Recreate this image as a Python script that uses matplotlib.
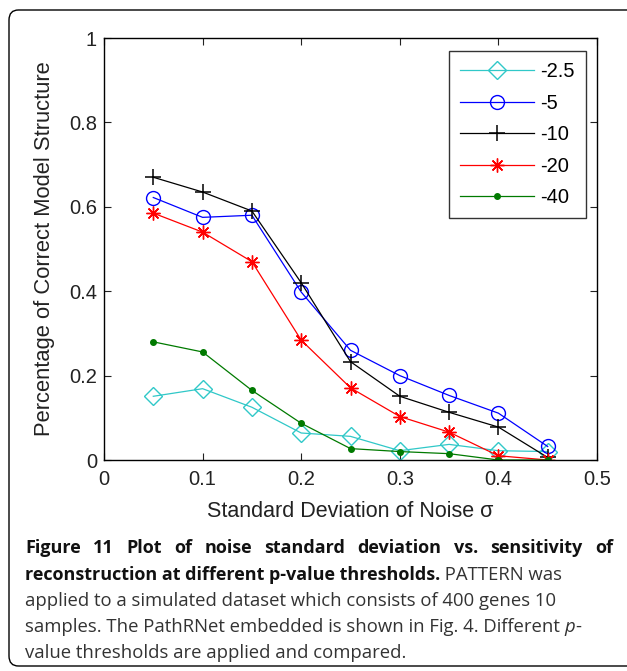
import matplotlib
matplotlib.use("Agg")
import matplotlib.pyplot as plt
from matplotlib.patches import FancyBboxPatch

# Дані
noise_sd = [0.05, 0.10, 0.15, 0.20, 0.25, 0.30, 0.35, 0.40, 0.45]
thr_labels = ['-2.5', '-5', '-10', '-20', '-40']
p25 = [0.151, 0.169, 0.125, 0.064, 0.056, 0.022, 0.037, 0.022, 0.020]
p5 = [0.622, 0.575, 0.580, 0.398, 0.260, 0.200, 0.153, 0.111, 0.032]
p10 = [0.670, 0.635, 0.590, 0.420, 0.233, 0.151, 0.113, 0.078, 0.006]
p20 = [0.585, 0.540, 0.470, 0.284, 0.171, 0.103, 0.066, 0.010, 0.000]
p40 = [0.280, 0.256, 0.165, 0.087, 0.027, 0.020, 0.015, 0.000, 0.000]
x_ticks = [0, 0.1, 0.2, 0.3, 0.4, 0.5]
x_tick_labels = ['0', '0.1', '0.2', '0.3', '0.4', '0.5']
y_ticks = [0, 0.2, 0.4, 0.6, 0.8, 1]
y_tick_labels = ['0', '0.2', '0.4', '0.6', '0.8', '1']

W, H = 627, 671
fig = plt.figure(figsize=(W / 100, H / 100), dpi=100)

# рамка навколо всього рисунка
frame = FancyBboxPatch((9 / W, 5 / H), 640 / W, (H - 15) / H,
                       boxstyle="round,pad=0,rounding_size=0.015",
                       transform=fig.transFigure, fill=False,
                       edgecolor='black', linewidth=1.0)
fig.patches.append(frame)

ax = fig.add_axes([104 / W, 1 - 460 / H, 493 / W, 422 / H])

mfont = 'Liberation Sans'
ax.plot(noise_sd, p25, color='#30c8c8', marker='D', markersize=9,
        markerfacecolor='none', lw=0.9, label=thr_labels[0])
ax.plot(noise_sd, p5, color='#0000ff', marker='o', markersize=10,
        markerfacecolor='none', lw=0.9, label=thr_labels[1])
ax.plot(noise_sd, p10, color='black', marker='+', markersize=12,
        markeredgewidth=1.1, lw=0.9, label=thr_labels[2])
ax.plot(noise_sd, p20, color='#ff0000', marker=(8, 2, 0), markersize=10,
        markeredgewidth=1.0, lw=0.9, label=thr_labels[3])
ax.plot(noise_sd, p40, color='#007a00', marker='.', markersize=8,
        lw=0.9, label=thr_labels[4])

ax.set_xlim(0, 0.5)
ax.set_ylim(0, 1)
ax.set_xticks(x_ticks)
ax.set_xticklabels(x_tick_labels, fontfamily=mfont, fontsize=14.5)
ax.set_yticks(y_ticks)
ax.set_yticklabels(y_tick_labels, fontfamily=mfont, fontsize=14.5)
ax.tick_params(direction='in', top=True, right=True, length=5, pad=5,
               colors='#222222')
ax.tick_params(axis='x', pad=7)
for s in ax.spines.values():
    s.set_linewidth(1.0)

ax.set_xlabel('Standard Deviation of Noise σ', fontfamily=mfont,
              fontsize=15.5, labelpad=9, color='#222222')
ax.set_ylabel('Percentage of Correct Model Structure', fontfamily=mfont,
              fontsize=15.8, labelpad=10, color='#222222')

leg = ax.legend(loc='upper right', bbox_to_anchor=(0.9776, 0.969),
                borderaxespad=0, prop={'family': mfont, 'size': 14.5},
                frameon=True, fancybox=False, edgecolor='black',
                handlelength=3.7, labelspacing=0.62, borderpad=0.55,
                handletextpad=0.3)
leg.get_frame().set_linewidth(1.0)

# підпис під рисунком: жирні та звичайні фрагменти в рядку
cap_font = 'Open Sans'
reg_size = 13.3
bold_size = 13.0
fig.canvas.draw()
renderer = fig.canvas.get_renderer()


def put(xpix, ypix, txt, wt='normal', st='normal'):
    t = fig.text(xpix / W, 1 - ypix / H, txt, fontfamily=cap_font,
                 fontsize=bold_size if wt == 'bold' else reg_size,
                 fontweight=wt, fontstyle=st, va='baseline', ha='left',
                 color='#111111' if wt == 'bold' else '#333333')
    return t.get_window_extent(renderer=renderer).width


left = 25
base = [553, 580, 606, 632, 658]

# перший рядок вирівняно по ширині
words = 'Figure 11 Plot of noise standard deviation vs. sensitivity of'.split()
tmp = [fig.text(0, 0, w, fontfamily=cap_font, fontsize=bold_size,
                fontweight='bold') for w in words]
widths = [t.get_window_extent(renderer=renderer).width for t in tmp]
for t in tmp:
    t.remove()
gap = (613 - left - sum(widths)) / (len(words) - 1)
x = left
for w, wd in zip(words, widths):
    put(x, base[0], w, 'bold')
    x += wd + gap

x = left
x += put(x, base[1], 'reconstruction at different p-value thresholds.', 'bold')
put(x, base[1], ' PATTERN was')
put(left, base[2], 'applied to a simulated dataset which consists of 400 genes 10')
x = left
x += put(x, base[3], 'samples. The PathRNet embedded is shown in Fig. 4. Different ')
x += put(x, base[3], 'p', st='italic')
put(x, base[3], '-')
put(left, base[4], 'value thresholds are applied and compared.')

fig.savefig('out.png', dpi=100)
